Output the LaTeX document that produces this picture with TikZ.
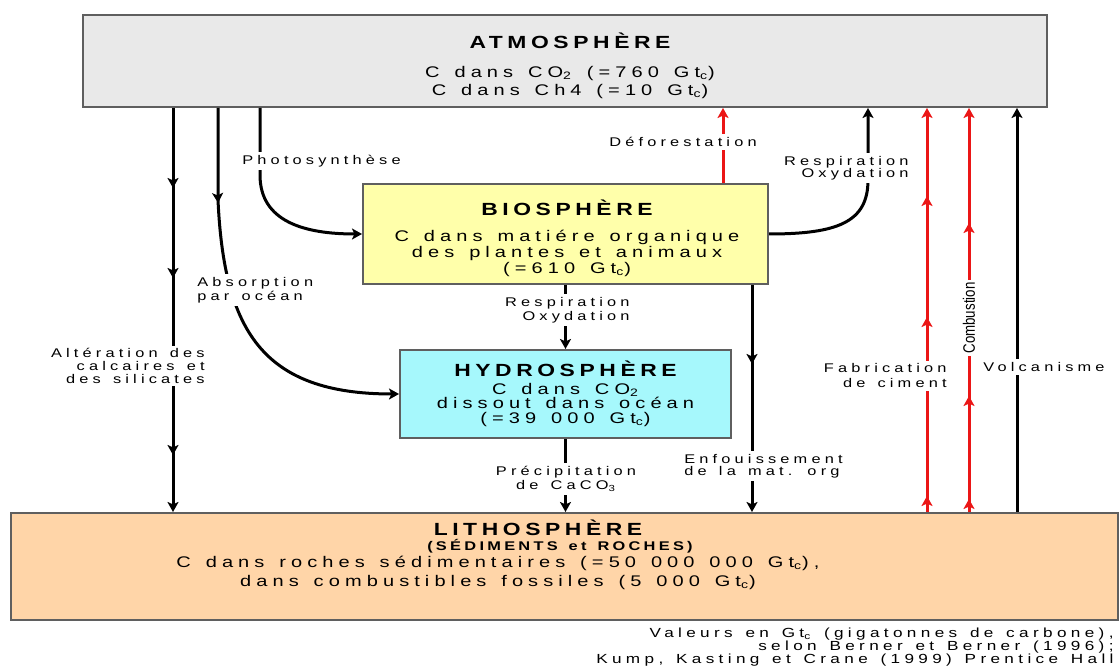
\documentclass[tikz,border=0pt]{standalone}
\usepackage{fontspec}
\setmainfont{Liberation Sans}
\newfontfamily\widefont[FakeStretch=1.3,LetterSpace=33,WordSpace=1.4,BoldFeatures={LetterSpace=26}]{Liberation Sans}
\newfontfamily\narrowfont[FakeStretch=0.8]{Liberation Sans}
\usetikzlibrary{arrows.meta,positioning,decorations.markings}
\definecolor{ink}{RGB}{0,0,0}
\definecolor{frame}{RGB}{95,95,95}
\definecolor{airfill}{RGB}{233,233,233}
\definecolor{lifefill}{RGB}{255,255,170}
\definecolor{seafill}{RGB}{166,248,252}
\definecolor{rockfill}{RGB}{255,213,168}
\definecolor{fire}{RGB}{235,22,22}
\tikzset{
  every picture/.style={color=ink, x=0.5pt, y=-0.5pt},
  reservoir/.style={draw=frame, line width=1pt, inner sep=0pt},
  air/.style={reservoir, fill=airfill, minimum width=482pt, minimum height=46pt},
  life/.style={reservoir, fill=lifefill, minimum width=202.5pt, minimum height=50pt},
  sea/.style={reservoir, fill=seafill, minimum width=165.5pt, minimum height=44pt},
  rock/.style={reservoir, fill=rockfill, minimum width=553.5pt, minimum height=53.5pt},
  boxtext/.style={align=center, inner sep=0pt},
  tiphead/.tip={Stealth[length=5pt,width=5.5pt,inset=1.2pt]},
  flow/.style={-tiphead, line width=1.5pt},
  hot/.style={flow, color=fire},
  tipat/.style={postaction={decorate, decoration={markings, mark=at position #1 with {\arrow{tiphead}}}}},
  lbl/.style={font=\widefont\fontsize{6.3}{7}\selectfont, fill=white, inner sep=1.5pt},
}

\begin{document}
\begin{tikzpicture}
  \useasboundingbox (0,0) rectangle (1120,667);
  % the four reservoirs
  \node[air] (atm) at (565,61) {};
  \node[life] (bio) at (565.5,234) {};
  \node[sea] (hydro) at (565.5,394) {};
  \node[rock] (litho) at (564.5,566.5) {};

  \node[boxtext, font=\widefont\fontsize{7.7}{9}\selectfont] (atmtext) at (570,66) {{\bfseries\fontsize{8.8}{9}\selectfont ATMOSPHÈRE}\\[5.75pt]C dans CO\textsubscript{2} (=760 Gt\textsubscript{c})\\C dans Ch4 (=10 Gt\textsubscript{c})};
  \node[boxtext, font=\widefont\fontsize{7.7}{8}\selectfont] (biotext) at (567,238.5) {{\bfseries\fontsize{8.8}{8}\selectfont BIOSPHÈRE}\\[4.75pt]C dans matiére organique\\des plantes et animaux\\(=610 Gt\textsubscript{c})};
  \node[boxtext, font=\widefont\fontsize{7.7}{7.25}\selectfont] (hydrotext) at (565.5,394) {{\bfseries\fontsize{8.8}{7.25}\selectfont HYDROSPHÈRE}\\[1.5pt]C dans CO\textsubscript{2}\\dissout dans océan\\(=39 000 Gt\textsubscript{c})};
  \node[boxtext, font=\widefont\bfseries\fontsize{8.8}{9}\selectfont] (lithohead) at (538,528) {LITHOSPHÈRE};
  \node[boxtext, font=\widefont\bfseries\fontsize{6.3}{7}\selectfont] (lithosub) at (560,546) {(SÉDIMENTS et ROCHES)};
  \node[boxtext, font=\widefont\fontsize{7.7}{9.5}\selectfont] (lithobody) at (498,573) {C dans roches sédimentaires (=50 000 000 Gt\textsubscript{c}),\\dans combustibles fossiles (5 000 Gt\textsubscript{c})};

  % columns of the straight fluxes
  \coordinate (kweather) at (173,0);
  \coordinate (kocean) at (218,0);
  \coordinate (kphoto) at (260,0);
  \coordinate (kdefor) at (723,0);
  \coordinate (kburial) at (752,0);
  \coordinate (kresp) at (868,0);
  \coordinate (kcement) at (927,0);
  \coordinate (kfuel) at (969,0);
  \coordinate (kvolc) at (1017,0);

  % fluxes leaving the atmosphere
  \draw[flow, tipat=40pt, tipat=85pt, tipat=173.5pt] (atm.south -| kweather) -- (litho.north -| kweather);
  \draw[flow, tipat=47.5pt] (atm.south -| kocean) -- (218,200) .. controls (224,330) and (262,394) .. (hydro.west);
  \draw[flow] (atm.south -| kphoto) -- (260,175) .. controls (260,222) and (305,234) .. (bio.west);
  % fluxes out of the biosphere
  \draw[hot] (bio.north -| kdefor) -- (atm.south -| kdefor);
  \draw[flow] (bio.east) .. controls (838,234) and (868,222) .. (868,180) -- (atm.south -| kresp);
  \draw[flow] (bio.south) -- (hydro.north);
  \draw[flow, tipat=39.5pt] (bio.south -| kburial) -- (litho.north -| kburial);
  \draw[flow] (hydro.south) -- (litho.north -| hydro.south);
  % fluxes back up from the rocks
  \draw[hot, tipat=8pt, tipat=97.5pt, tipat=158pt] (litho.north -| kcement) -- (atm.south -| kcement);
  \draw[hot, tipat=6.5pt, tipat=58pt, tipat=144.5pt] (litho.north -| kfuel) -- (atm.south -| kfuel);
  \draw[flow] (litho.north -| kvolc) -- (atm.south -| kvolc);

  % labels sit on white and cut the lines
  \node[lbl, anchor=west, align=left] (lphoto) at (239,161) {Photosynthèse};
  \node[lbl, anchor=west, align=left] (labs) at (194,290) {Absorption\\par océan};
  \node[lbl, anchor=east, align=right, font=\widefont\fontsize{6.3}{6.3}\selectfont] (lweather) at (208,366) {Altération des\\calcaires et\\des silicates};
  \node[lbl] (ldefor) at (683,142) {Déforestation};
  \node[lbl, anchor=east, align=right, font=\widefont\fontsize{6.3}{6}\selectfont] (lresp) at (912,168) {Respiration\\Oxydation};
  \node[lbl, anchor=east, align=right] (lrespsea) at (633,310) {Respiration\\Oxydation};
  \node[lbl, align=center] (lprecip) at (566,479) {Précipitation\\de CaCO\textsubscript{3}};
  \node[lbl, anchor=west, align=left, font=\widefont\fontsize{6.3}{6}\selectfont] (lburial) at (681,466) {Enfouissement\\de la mat. org};
  \node[lbl, anchor=east, align=right, font=\widefont\fontsize{6.3}{7.5}\selectfont] (lcement) at (950,376) {Fabrication\\de ciment};
  \node[lbl, rotate=90, font=\narrowfont\fontsize{8.3}{9}\selectfont] (lfuel) at (969,318) {Combustion};
  \node[lbl, anchor=west] (lvolc) at (980,367) {Volcanisme};

  \node[anchor=east, align=right, inner sep=0pt, font=\widefont\fontsize{6.6}{6.5}\selectfont] (source) at (1114,647) {Valeurs en Gt\textsubscript{c} (gigatonnes de carbone),\\selon Berner et Berner (1996);\\Kump, Kasting et Crane (1999) Prentice Hall};
\end{tikzpicture}
\end{document}
